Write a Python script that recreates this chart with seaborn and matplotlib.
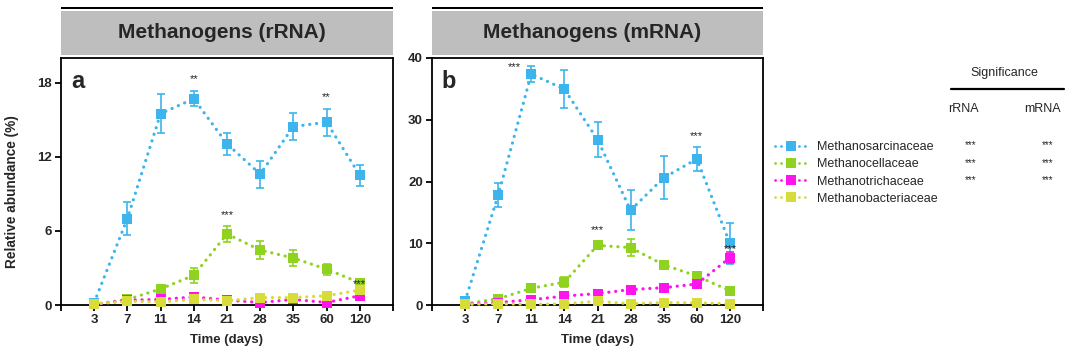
import numpy as np
import pandas as pd
import matplotlib
matplotlib.use("Agg")
import matplotlib.pyplot as plt
from matplotlib.lines import Line2D
from matplotlib.patches import Rectangle
import seaborn as sns

# ---- data -------------------------------------------------------------
days = ["3", "7", "11", "14", "21", "28", "35", "60", "120"]
families = ["Methanosarcinaceae", "Methanocellaceae",
            "Methanotrichaceae", "Methanobacteriaceae"]
colors = ["#3DB5EC", "#8FD320", "#FF14EE", "#D8DC3A"]

# rRNA relative abundance (%), mean and error
rrna_sarcina = [0.2, 7.0, 15.5, 16.7, 13.05, 10.6, 14.45, 14.8, 10.5]
rrna_sarcina_err = [0.1, 1.3, 1.6, 0.6, 0.9, 1.1, 1.1, 1.1, 0.85]
rrna_cella = [0.05, 0.45, 1.3, 2.4, 5.75, 4.45, 3.8, 2.9, 1.8]
rrna_cella_err = [0.05, 0.1, 0.15, 0.6, 0.65, 0.7, 0.65, 0.45, 0.2]
rrna_tricha = [0.05, 0.4, 0.45, 0.65, 0.4, 0.2, 0.45, 0.2, 0.75]
rrna_tricha_err = [0.03, 0.1, 0.15, 0.1, 0.05, 0.1, 0.1, 0.1, 0.1]
rrna_bacteria = [0.1, 0.3, 0.25, 0.45, 0.35, 0.6, 0.6, 0.75, 1.2]
rrna_bacteria_err = [0.05, 0.1, 0.1, 0.1, 0.1, 0.15, 0.15, 0.2, 0.2]

# mRNA relative abundance (%), mean and error
mrna_sarcina = [0.65, 17.8, 37.4, 34.95, 26.8, 15.35, 20.6, 23.65, 10.0]
mrna_sarcina_err = [0.3, 2.0, 1.3, 3.1, 2.8, 3.2, 3.5, 1.9, 3.3]
mrna_cella = [0.2, 1.0, 2.7, 3.7, 9.65, 9.3, 6.5, 4.7, 2.3]
mrna_cella_err = [0.1, 0.3, 0.4, 0.8, 0.6, 1.4, 0.3, 0.3, 0.3]
mrna_tricha = [0.15, 0.4, 0.85, 1.45, 1.85, 2.5, 2.8, 3.4, 7.65]
mrna_tricha_err = [0.05, 0.1, 0.2, 0.3, 0.3, 0.3, 0.3, 0.3, 0.9]
mrna_bacteria = [0.1, 0.2, 0.1, 0.2, 0.6, 0.2, 0.4, 0.35, 0.2]
mrna_bacteria_err = [0.05, 0.05, 0.05, 0.05, 0.1, 0.05, 0.1, 0.1, 0.05]

rrna_means = [rrna_sarcina, rrna_cella, rrna_tricha, rrna_bacteria]
rrna_errs = [rrna_sarcina_err, rrna_cella_err, rrna_tricha_err, rrna_bacteria_err]
mrna_means = [mrna_sarcina, mrna_cella, mrna_tricha, mrna_bacteria]
mrna_errs = [mrna_sarcina_err, mrna_cella_err, mrna_tricha_err, mrna_bacteria_err]

# significance stars: (day, height, text, x shift)
rrna_stars = [("14", 18.3, "**", 0.0), ("60", 16.8, "**", 0.0),
              ("21", 7.3, "***", 0.0), ("120", 1.7, "***", 0.0)]
mrna_stars = [("11", 38.5, "***", -0.5), ("60", 27.3, "***", 0.0),
              ("21", 12.2, "***", 0.0), ("120", 9.1, "***", 0.0)]

table_rrna = ["***", "***", "***", ""]
table_mrna = ["***", "***", "***", ""]


def long_frame(means, errs):
    rows = []
    for fam, m, e in zip(families, means, errs):
        for i, (d, v, s) in enumerate(zip(days, m, e)):
            rows.append({"pos": i, "day": d, "family": fam, "value": v, "err": s})
    return pd.DataFrame(rows)


df_r = long_frame(rrna_means, rrna_errs)
df_m = long_frame(mrna_means, mrna_errs)

# ---- style ------------------------------------------------------------
sns.set_theme(style="ticks")
plt.rcParams["font.family"] = ["Liberation Sans", "DejaVu Sans"]
plt.rcParams["axes.linewidth"] = 1.3

W, H = 1080, 349
fig = plt.figure(figsize=(W / 100, H / 100), dpi=100)


def fx(px):
    return px / W


def fy(py):
    return 1 - py / H


palette = dict(zip(families, colors))
DOT = (0, (0.05, 2.1))


def draw_panel(left, right, df, ylim, yticks, title, letter, stars):
    ax = fig.add_axes([fx(left), fy(305), fx(right - left), (305 - 58) / H])
    sns.lineplot(data=df, x="pos", y="value", hue="family", hue_order=families,
                 palette=palette, marker="s", markersize=7.5, markeredgewidth=0,
                 linewidth=2.3, ax=ax, legend=False, sort=False,
                 errorbar=None, zorder=3)
    for ln in list(ax.lines):
        ln.set_linestyle(DOT)
        ln.set_dash_capstyle("round")
        ln.set_clip_on(False)
    for fam in families:
        sub = df[df["family"] == fam]
        ax.errorbar(sub["pos"], sub["value"], yerr=sub["err"], fmt="none",
                    ecolor=palette[fam], elinewidth=1.2, capsize=3.2,
                    capthick=1.2, zorder=2, clip_on=False)

    ax.set_xlim(-1, 9)
    ax.set_ylim(*ylim)
    ax.set_xticks(range(-1, 10))
    ax.set_xticklabels([""] + days + [""])
    ax.set_yticks(yticks)
    ax.tick_params(axis="both", length=4.5, width=1.3, pad=2, labelsize=9.5,
                   color="black")
    for lab in ax.get_xticklabels() + ax.get_yticklabels():
        lab.set_fontweight("bold")
    for sp in ax.spines.values():
        sp.set_visible(True)
        sp.set_color("black")
    ax.set_xlabel("Time (days)", fontsize=9.5, fontweight="bold", labelpad=6)
    ax.set_ylabel("")
    ax.text(0.03, 0.905, letter, transform=ax.transAxes, fontsize=17,
            fontweight="bold", ha="left", va="center")
    for d, yv, txt, dx in stars:
        ax.text(days.index(d) + dx, yv, txt, fontsize=8, ha="center",
                va="center", color="#222222", zorder=5)

    # header: thin black rule and grey title box
    fig.add_artist(Rectangle((fx(left), fy(8.5)), fx(right - left), 2 / H,
                             transform=fig.transFigure, color="black", lw=0))
    fig.add_artist(Rectangle((fx(left), fy(55)), fx(right - left), 44 / H,
                             transform=fig.transFigure, facecolor="#BEBEBE",
                             lw=0))
    fig.text(fx((left + right) / 2 - 5), fy(33), title, fontsize=15,
             fontweight="bold", ha="center", va="center")
    return ax


ax_a = draw_panel(61, 393, df_r, (0, 20), [0, 6, 12, 18],
                  "Methanogens (rRNA)", "a", rrna_stars)
ax_b = draw_panel(432, 763, df_m, (0, 40), [0, 10, 20, 30, 40],
                  "Methanogens (mRNA)", "b", mrna_stars)

fig.text(fx(12), fy(192), "Relative abundance (%)", rotation=90,
         fontsize=9.8, fontweight="bold", ha="center", va="center")

# ---- legend and significance table -------------------------------------
handles = [Line2D([0], [0], color=c, linestyle=DOT, linewidth=2.0,
                  dash_capstyle="round", marker="s", markersize=7,
                  markeredgewidth=0) for c in colors]
fig.legend(handles, families, loc="upper left",
           bbox_to_anchor=(fx(775), fy(141)), frameon=False, fontsize=9,
           handlelength=2.5, handletextpad=0.9, labelspacing=0.42,
           borderpad=0, borderaxespad=0)

fig.text(fx(1004), fy(73), "Significance", fontsize=9, ha="center",
         va="center")
fig.add_artist(Line2D([fx(951), fx(1064)], [fy(89), fy(89)],
                      transform=fig.transFigure, color="black", lw=1.6))
fig.text(fx(963), fy(109), "rRNA", fontsize=9, ha="center", va="center")
fig.text(fx(1042), fy(109), "mRNA", fontsize=9, ha="center", va="center")
row_y = [145, 163, 180, 197]
for yv, r, m in zip(row_y, table_rrna, table_mrna):
    fig.text(fx(971), fy(yv), r, fontsize=7, ha="center", va="center")
    fig.text(fx(1048), fy(yv), m, fontsize=7, ha="center", va="center")

fig.savefig("out.png", dpi=100)
